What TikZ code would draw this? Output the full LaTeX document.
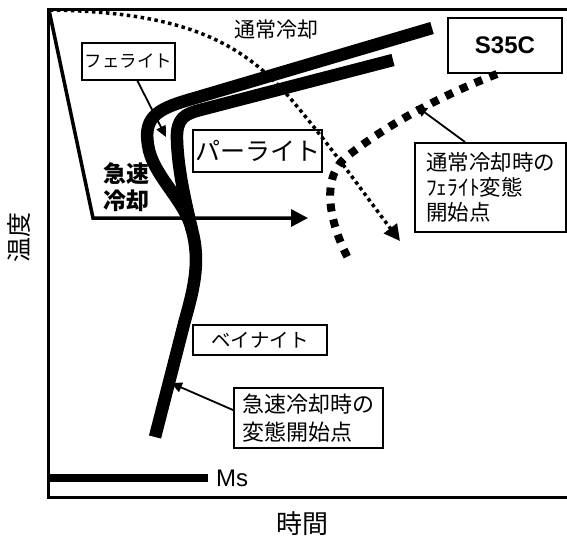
\documentclass[tikz,border=0pt]{standalone}
\usepackage{fontspec}
\setmainfont{Noto Sans CJK JP}
\newfontfamily\latinsans{Liberation Sans}
\usetikzlibrary{arrows.meta}
\tikzset{
  lbox/.style={draw, line width=2pt, inner sep=0pt, align=left},
  thin/.style={line width=1.8pt, -{Triangle[length=11pt,width=10pt]}},
  thickcurve/.style={line width=12.5pt, line join=round},
  fs/.style={font=\fontsize{#1}{#1}\selectfont}
}
\begin{document}
\begin{tikzpicture}[x=1pt,y=-1pt]
\useasboundingbox (0,0) rectangle (567,539);
% frame
\draw[line width=3pt] (567,9) -- (48,9) -- (48,497) -- (567,497);
% axis labels
\node[rotate=90, fs=25] (ylab) at (19,237) {温度};
\node[fs=26] (xlab) at (302,524) {時間};
% Ms
\coordinate (ms0) at (48,478);
\coordinate (ms1) at (208,478);
\draw[line width=8pt] (ms0) -- (ms1);
\node[anchor=west, inner sep=0pt, font=\latinsans\fontsize{24}{24}\selectfont] (ms) at (216,478) {Ms};
% rapid cooling line
\coordinate (rc0) at (49,10);
\coordinate (rc1) at (93,218);
\coordinate (rc2) at (308,218);
\draw[line width=3.5pt, line join=miter, -{Triangle[length=17pt,width=17pt]}] (rc0) -- (rc1) -- (rc2);
\node[font=\bfseries\fontsize{23}{27}\selectfont, align=left, anchor=north west, inner sep=0pt] (rapid) at (103,162) {急速\\冷却};
% normal cooling dotted curve
\coordinate (nc0) at (50,10);
\coordinate (nc1) at (400,241);
\draw[line width=3.5pt, dash pattern=on 3.5pt off 3.5pt, -{Triangle[length=16pt,width=16pt]}]
  (nc0) .. controls (180,12) and (240,40) .. (290,98) .. controls (330,145) and (365,195) .. (nc1);
\node[fs=21, anchor=west, inner sep=0pt] (nclab) at (234,30) {通常冷却};
% thick curves
\draw[thickcurve] (432,28) -- (195,98) .. controls (160,108) and (143,115) .. (148,145)
  .. controls (152,175) and (185,200) .. (192,230) .. controls (200,260) and (195,285) .. (185,320)
  -- (155,437);
\draw[thickcurve] (393,60) -- (200,110) .. controls (185,114) and (176,118) .. (177,140)
  .. controls (178,170) and (185,200) .. (192,230);
% ferrite start dashed curve
\coordinate (fd0) at (497,74);
\coordinate (fd1) at (350,262);
\draw[line width=8pt, dash pattern=on 8pt off 8pt]
  (fd0) .. controls (430,100) and (380,130) .. (345,158) .. controls (320,180) and (330,225) .. (fd1);
% boxes
\node[lbox, font=\latinsans\bfseries\fontsize{24}{24}\selectfont, minimum width=114pt, minimum height=55pt] (s35c) at (505,45.5) {S35C};
\node[lbox, fs=17.5, minimum width=93pt, minimum height=37pt] (ferrite) at (128.5,61.5) {フェライト};
\node[lbox, fs=25, minimum width=129pt, minimum height=42pt] (pearlite) at (257.5,151) {パーライト};
\node[lbox, fs=19.5, minimum width=134pt, minimum height=30pt] (bainite) at (260,340) {ベイナイト};
\node[lbox, font=\fontsize{21.5}{25}\selectfont, minimum width=151pt, minimum height=89pt, inner xsep=9pt] (fbox) at (490.5,187.5) {通常冷却時の\\ﾌｪﾗｲﾄ変態\\開始点};
\node[lbox, font=\fontsize{22}{28}\selectfont, minimum width=149pt, minimum height=60pt, inner xsep=8pt] (rbox) at (308.5,418) {急速冷却時の\\変態開始点};
% arrows
\coordinate (fa) at (166,137);
\draw[thin] (137,80) -- (fa);
\coordinate (fba) at (416,106);
\draw[thin] (fbox.north west -| 465,143) -- (fba);
\coordinate (rba) at (171,383);
\draw[thin] (rbox.west |- 234,410) -- (rba);
\end{tikzpicture}
\end{document}
